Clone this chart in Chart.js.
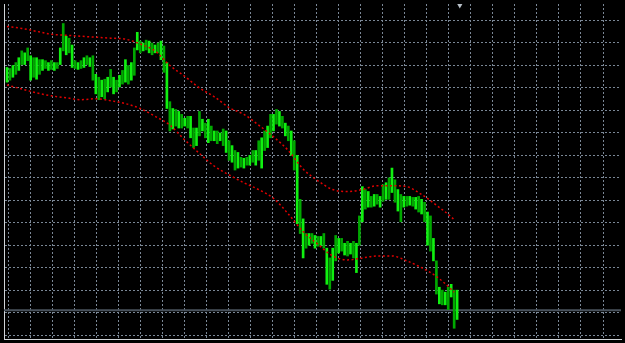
<!DOCTYPE html>
<html lang="en">

<head>
    <meta charset="UTF-8">
    <title>Price chart</title>
    <style>
        html, body { margin: 0; padding: 0; background: #000; overflow: hidden; }
        canvas { display: block; }
    </style>
</head>

<body>
    <canvas id="myChart" width="625" height="343"></canvas>

    <script src="https://cdn.jsdelivr.net/npm/chart.js@4.4.1/dist/chart.umd.min.js"></script>

    <script>
        // high / low of each bar (price points), bar 0 = leftmost
        var highs = [278, 277, 280, 283, 288, 295, 293, 298, 290, 288, 288, 286, 286, 285, 283, 285, 283, 283, 298, 323,
            310, 308, 301, 285, 283, 285, 288, 290, 288, 290, 271, 268, 265, 266, 268, 276, 268, 265, 270, 275,
            286, 280, 283, 298, 314, 305, 303, 306, 305, 303, 301, 303, 305, 300, 283, 243, 236, 235, 233, 230,
            226, 228, 228, 216, 216, 233, 225, 221, 225, 218, 213, 213, 211, 215, 213, 203, 198, 193, 191, 186,
            185, 186, 188, 193, 193, 203, 206, 213, 218, 230, 230, 235, 233, 228, 221, 218, 213, 203, 188, 143,
            123, 108, 108, 108, 106, 105, 105, 108, 93, 83, 93, 106, 103, 103, 98, 100, 98, 100, 98, 126,
            156, 153, 151, 146, 148, 148, 146, 158, 160, 165, 175, 163, 153, 148, 146, 146, 146, 145, 145, 146,
            143, 140, 130, 126, 103, 80, 53, 50, 48, 53, 56, 50, 50];
        var lows = [263, 265, 268, 271, 275, 281, 281, 285, 265, 268, 266, 271, 275, 277, 275, 276, 275, 277, 281, 295,
            291, 293, 278, 277, 276, 277, 278, 281, 279, 265, 251, 245, 248, 246, 253, 258, 251, 253, 258, 261,
            263, 261, 265, 270, 296, 293, 295, 296, 293, 291, 293, 293, 286, 273, 236, 213, 215, 218, 216, 216,
            218, 216, 206, 196, 198, 208, 213, 206, 201, 203, 203, 200, 203, 198, 191, 183, 181, 173, 175, 176,
            175, 178, 178, 181, 178, 183, 175, 193, 196, 206, 213, 220, 218, 216, 208, 203, 188, 173, 118, 108,
            83, 93, 96, 98, 93, 95, 96, 93, 56, 51, 60, 80, 88, 90, 86, 85, 87, 83, 68, 96,
            120, 133, 135, 135, 136, 138, 135, 141, 143, 143, 150, 140, 131, 120, 135, 136, 137, 136, 133, 130,
            128, 120, 96, 90, 80, 46, 36, 35, 35, 30, 43, 11, 20];

        // envelope bands, one value every 5 bars (last one at bar 151)
        var upperBand = [320, 318, 315, 312, 311, 310, 309, 308, 307, 302, 295, 280, 269, 257, 248, 237,
            230, 219, 207, 193, 174, 162, 153, 151, 153, 157, 157, 156, 148, 137, 125, 122];
        var lowerBand = [260, 256, 252, 249, 247, 245, 246, 244, 241, 236, 228, 219, 204, 190, 177, 168,
            160, 153, 144, 128, 110, 97, 85, 81, 83, 85, 85, 80, 73, 64, 51, 48];
        var bandBars = [];
        for (var k = 0; k < 31; k++) bandBars.push(k * 5);
        bandBars.push(151);

        var bidLevel = 29.5;
        var shiftMark = { x: 152.9, y: 341.5 };

        // price range on screen and grid spacing
        var priceMin = 0, priceMax = 343;
        var barMin = -1, barMax = 207.333;
        var gridPriceStart = 326.3, gridPriceStep = 23.05;
        var gridBarStart = 0.567, gridBarStep = 7.433;

        var GRID = '#7a8796';

        var barData = highs.map(function (h, i) {
            return { x: i, y: [lows[i], h] };
        });
        var upperData = bandBars.map(function (b, i) { return { x: b, y: upperBand[i] }; });
        var lowerData = bandBars.map(function (b, i) { return { x: b, y: lowerBand[i] }; });

        var bandStyle = {
            type: 'line',
            borderColor: '#e00000',
            borderWidth: 1.5,
            borderDash: [2, 2.5],
            pointRadius: 0,
            cubicInterpolationMode: 'monotone',
            order: 0
        };

        var ctx = document.getElementById('myChart').getContext('2d');
        var myChart = new Chart(ctx, {
            type: 'bar',
            data: {
                datasets: [
                    Object.assign({ data: upperData }, bandStyle),
                    Object.assign({ data: lowerData }, bandStyle),
                    {
                        type: 'line',
                        data: [{ x: barMin, y: bidLevel }, { x: barMax, y: bidLevel }],
                        borderColor: '#4a535d',
                        borderWidth: 2,
                        pointRadius: 0,
                        order: 2
                    },
                    {
                        type: 'scatter',
                        data: [shiftMark],
                        pointStyle: 'triangle',
                        rotation: 180,
                        radius: 3,
                        backgroundColor: '#b8c0c8',
                        borderWidth: 0,
                        order: 0
                    },
                    {
                        data: barData,
                        backgroundColor: function (c) {
                            return c.dataIndex % 2 ? '#00a800' : '#10f010';
                        },
                        barThickness: 2,
                        order: 1
                    }
                ]
            },
            options: {
                responsive: false,
                animation: false,
                devicePixelRatio: 1,
                layout: { padding: 0 },
                plugins: { legend: { display: false }, tooltip: { enabled: false } },
                scales: {
                    x: {
                        type: 'linear',
                        min: barMin,
                        max: barMax,
                        offset: false,
                        afterBuildTicks: function (scale) {
                            var t = [];
                            for (var v = gridBarStart; v < barMax; v += gridBarStep) t.push({ value: v });
                            scale.ticks = t;
                        },
                        ticks: { display: false },
                        grid: { color: GRID, lineWidth: 1, drawTicks: false, offset: false },
                        border: { display: true, color: '#d0d4d8', width: 1, dash: [2, 2] }
                    },
                    y: {
                        min: priceMin,
                        max: priceMax,
                        afterBuildTicks: function (scale) {
                            var t = [];
                            for (var v = gridPriceStart; v > priceMin; v -= gridPriceStep) t.push({ value: v });
                            scale.ticks = t;
                        },
                        ticks: { display: false },
                        grid: { color: GRID, lineWidth: 1, drawTicks: false },
                        border: { display: true, color: '#d0d4d8', width: 1, dash: [2, 2] }
                    }
                }
            }
        });
    </script>
</body>

</html>
